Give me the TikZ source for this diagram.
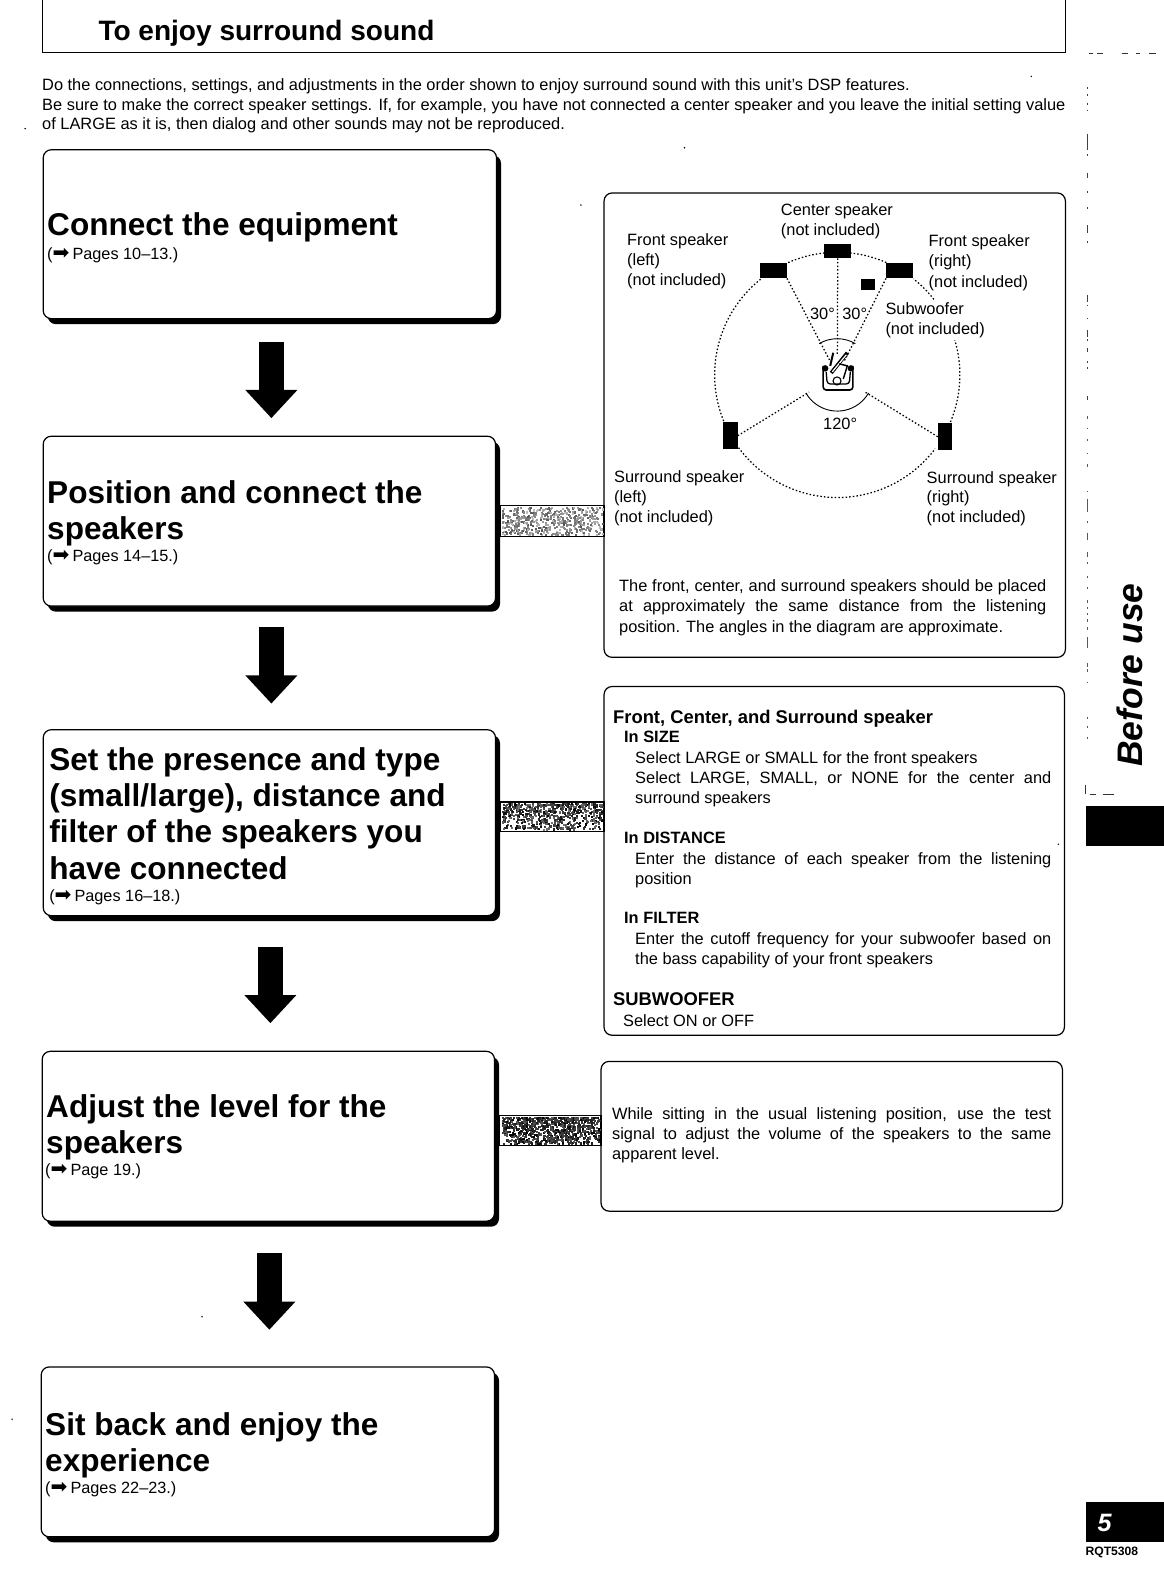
\documentclass[tikz,border=0pt]{standalone}
\usepackage{fontspec}
\setmainfont{Liberation Sans}
\newfontfamily\arrowfont{DejaVu Sans}
\usetikzlibrary{arrows.meta,shadows,calc}
\newcounter{tln}
\newcommand\putline[4][]{\stepcounter{tln}\node[tline,#1] (t\arabic{tln}) at (#2,-#3) {#4};}
\newcommand\putstep[3]{\putline[font=\stepf,yshift=.8pt]{#1}{#2}{#3}}
\newcommand\jl[2]{\makebox[#1pt][s]{#2}}
\newcommand\pg[1]{({\fontsize{20}{18}\arrowfont\char"27A1}\kern3pt #1}
\newcommand\bodyf{\fontsize{16.3}{18}\selectfont}
\newcommand\boldf{\fontsize{18.3}{20}\selectfont\bfseries}
\newcommand\stepf{\fontsize{31.4}{36}\selectfont\bfseries}
\newcommand\pagef{\fontsize{16.2}{18}\selectfont}
% x1 y1 x2 y2 count exponent lowgray highgray
\newcommand\bandnoise[8]{%
  \foreach \ii in {1,...,#5}{%
    \pgfmathsetmacro\rx{#1+rnd*(#3-#1-2)}%
    \pgfmathsetmacro\ry{#2+1+(rnd^#6)*(#4-#2-3.5)}%
    \pgfmathsetmacro\rg{int(#7+rnd*(#8-#7))}%
    \fill[black!\rg] (\rx,-\ry) rectangle ++(2,-2.2);
  }}
\tikzset{
  x=1pt,y=1pt,
  tline/.style={anchor=base west,inner sep=0pt,outer sep=0pt,text=black,font=\bodyf,yshift=-.8pt},
  stepbox/.style={draw=black,line width=1.2pt,fill=white,rounded corners=8pt,inner sep=0pt,outer sep=0pt,anchor=north west,
    general shadow={fill=black,shadow xshift=4.5pt,shadow yshift=-5.5pt}},
  panel/.style={draw=black,line width=1.2pt,fill=white,rounded corners=8pt,inner sep=0pt,outer sep=0pt,anchor=north west},
  flow/.style={line width=25pt,black,-{Triangle[width=50pt,length=28pt]}},
  spk/.style={fill=black,inner sep=0pt,outer sep=0pt},
  dotline/.style={line width=1.25pt,dash pattern=on 1.5pt off 2.1pt,black},
  bandline/.style={draw=black,line width=1.2pt,fill=white},
  speck/.style={line width=1pt,black!80},
}
\begin{document}
\begin{tikzpicture}
\useasboundingbox (0,0) rectangle (1158,-1568);
\fill[white] (0,0) rectangle (1158,-1568);

% header
\coordinate (hl) at (42,0); \coordinate (hbl) at (42,-52);
\coordinate (hr) at (1060,0); \coordinate (hbr) at (1060,-52);
\draw[line width=1.1pt] (hl) -- (hbl) -- (hbr) -- (hr);
\putline[font=\fontsize{27.9}{32}\selectfont\bfseries,yshift=.8pt]{98}{40.5}{To enjoy surround sound}
\putline{42}{89}{Do the connections, settings, and adjustments in the order shown to enjoy surround sound with this unit's DSP features.}
\putline{42}{109}{\jl{1018}{Be sure to make the correct speaker settings. If, for example, you have not connected a center speaker and you leave the initial setting value}}
\putline{42}{128}{of LARGE as it is, then dialog and other sounds may not be reproduced.}

% step boxes
\node[stepbox,minimum width=451pt,minimum height=168pt] (s1) at (43,-149) {};
\node[stepbox,minimum width=450pt,minimum height=169pt] (s2) at (43,-434) {};
\node[stepbox,minimum width=450pt,minimum height=185pt] (s3) at (43,-726) {};
\node[stepbox,minimum width=450pt,minimum height=169pt] (s4) at (42,-1046) {};
\node[stepbox,minimum width=451pt,minimum height=169pt] (s5) at (41,-1360) {};

% panels
\node[panel,minimum width=459pt,minimum height=462pt] (p1) at (601,-192) {};
\node[panel,minimum width=458pt,minimum height=347pt] (p2) at (601,-683) {};
\node[panel,minimum width=459pt,minimum height=149pt] (p3) at (598,-1056) {};

% bands
\pgfmathsetseed{7}
\path[bandline] ($(s2.east |- 0,-503)+(5,0)$) rectangle (p1.west |- 0,-534);
\bandnoise{499}{503}{601}{534}{470}{1}{25}{68}
\path[bandline] ($(s3.east |- 0,-798)+(5,0)$) rectangle (p2.west |- 0,-827);
\bandnoise{499}{798}{601}{827}{640}{1.4}{55}{100}
\path[bandline] ($(s4.east |- 0,-1110)+(5,0)$) rectangle (p3.west |- 0,-1140);
\bandnoise{499}{1110}{598}{1140}{850}{1.4}{65}{100}

% arrows
\coordinate (a1a) at (270,-340); \coordinate (a1b) at (270,-416);
\coordinate (a2a) at (270,-624); \coordinate (a2b) at (270,-700);
\coordinate (a3a) at (269,-942); \coordinate (a3b) at (269,-1018);
\coordinate (a4a) at (268,-1247); \coordinate (a4b) at (268,-1323);
\draw[flow] (a1a) -- (a1b);
\draw[flow] (a2a) -- (a2b);
\draw[flow] (a3a) -- (a3b);
\draw[flow] (a4a) -- (a4b);

% step text
\putstep{47}{234.7}{Connect the equipment}
\putline[font=\pagef]{47}{257}{\pg{Pages 10--13.)}}
\putstep{47}{500.7}{Position and connect the}
\putstep{47}{536.7}{speakers}
\putline[font=\pagef]{47}{558}{\pg{Pages 14--15.)}}
\putstep{49}{766.7}{Set the presence and type}
\putstep{49}{802.7}{(small/large), distance and}
\putstep{49}{838.7}{filter of the speakers you}
\putstep{49}{874.7}{have connected}
\putline[font=\pagef]{49}{896}{\pg{Pages 16--18.)}}
\putstep{46}{1111.7}{Adjust the level for the}
\putstep{46}{1147.7}{speakers}
\putline[font=\pagef]{45}{1169}{\pg{Page 19.)}}
\putstep{45}{1427.7}{Sit back and enjoy the}
\putstep{45}{1463.7}{experience}
\putline[font=\pagef]{45}{1485}{\pg{Pages 22--23.)}}

% speaker diagram
\coordinate (c) at (833,-373);
\node[spk,minimum width=27pt,minimum height=14pt] (cs) at (833.5,-250) {};
\node[spk,minimum width=27pt,minimum height=15pt] (fl) at (769.5,-269.5) {};
\node[spk,minimum width=27pt,minimum height=15pt] (fr) at (895,-269.5) {};
\node[spk,minimum width=14pt,minimum height=11pt] (sw) at (864,-283.5) {};
\node[spk,minimum width=15pt,minimum height=27pt] (sl) at (726.5,-433.5) {};
\node[spk,minimum width=14pt,minimum height=27pt] (sr) at (940,-434.5) {};
\coordinate (lis) at (833,-373);
\foreach \a/\b in {128.7/203,216.4/323,-22.6/16.5,38/51.6,66.4/84,96/114.4}{
  \draw[dotline] (c) ++(\a:122) arc[start angle=\a,end angle=\b,radius=122];
}
\draw[dotline,shorten >=20pt] (cs.south) -- (lis);
\draw[dotline,shorten >=15pt] (fl.south east) -- (lis);
\draw[dotline,shorten >=15pt] (fr.south west) -- (lis);
\draw[dotline,shorten >=33pt] (sl.east) -- (lis);
\draw[dotline,shorten >=33pt] (sr.west) -- (lis);
\draw[line width=.9pt] (c) ++(120:36) arc[start angle=120,end angle=60,radius=36];
\draw[line width=.9pt] (c) ++(210:36) arc[start angle=210,end angle=330,radius=36];
% listener
\draw[line width=1.6pt,rounded corners=3pt,fill=white] (819,-364) -- (819,-388) -- (848.5,-388) -- (848.5,-364);
\draw[line width=1.3pt,rounded corners=3pt] (822,-370) -- (823,-382) -- (845,-382) -- (846,-370);
\fill (821,-366.5) circle[radius=3.2];
\fill (846.5,-366.5) circle[radius=3.2];
\draw[line width=1.1pt] (832.8,-379) circle[radius=4];
\draw[line width=3.6pt] (827,-371) -- (843,-351);
\draw[line width=1.2pt,white] (828,-370) -- (842,-353);
\draw[line width=2pt] (826,-364) -- (829,-351);
\draw[line width=1.4pt] (839,-377) -- (843,-364) -- (835,-362);

\putline{777}{214}{Center speaker}
\putline{777}{234}{(not included)}
\putline{624}{243}{Front speaker}
\putline{624}{263}{(left)}
\putline{624}{283}{(not included)}
\putline{924}{244}{Front speaker}
\putline{924}{264}{(right)}
\putline{924}{285}{(not included)}
\putline{881}{312}{Subwoofer}
\putline{881}{332}{(not included)}
\putline{806}{317}{30°}
\putline{838}{317}{30°}
\putline{819}{427}{120°}
\putline{611}{479}{Surround speaker}
\putline{611}{499}{(left)}
\putline{611}{519}{(not included)}
\putline{922}{480}{Surround speaker}
\putline{922}{499}{(right)}
\putline{922}{519}{(not included)}
\putline{616}{588}{\jl{425}{The front, center, and surround speakers should be placed}}
\putline{616}{608}{\jl{425}{at approximately the same distance from the listening}}
\putline{616}{628}{position. The angles in the diagram are approximate.}

% panel 2
\putline[font=\boldf]{610}{719}{Front, Center, and Surround speaker}
\putline[font=\bodyf\bfseries]{621}{738}{In SIZE}
\putline{632}{759}{Select LARGE or SMALL for the front speakers}
\putline{632}{779}{\jl{414}{Select LARGE, SMALL, or NONE for the center and}}
\putline{632}{799}{surround speakers}
\putline[font=\bodyf\bfseries]{621}{838}{In DISTANCE}
\putline{632}{859}{\jl{414}{Enter the distance of each speaker from the listening}}
\putline{632}{879}{position}
\putline[font=\bodyf\bfseries]{621}{918}{In FILTER}
\putline{632}{939}{\jl{414}{Enter the cutoff frequency for your subwoofer based on}}
\putline{632}{959}{the bass capability of your front speakers}
\putline[font=\boldf]{610}{1000}{SUBWOOFER}
\putline{620}{1020}{Select ON or OFF}

% panel 3
\putline{609}{1113}{\jl{437}{While sitting in the usual listening position, use the test}}
\putline{609}{1133}{\jl{437}{signal to adjust the volume of the speakers to the same}}
\putline{609}{1153}{apparent level.}

% side tabs
\node[spk,minimum width=78pt,minimum height=40pt,anchor=north west] (tab1) at (1080,-802) {};
\node[spk,minimum width=78pt,minimum height=40pt,anchor=north west] (tab2) at (1080,-1494) {};
\putline[font=\fontsize{35.3}{40}\selectfont\bfseries\itshape,rotate=90,yshift=.8pt]{1137}{762}{Before use}
\putline[font=\fontsize{25}{28}\selectfont\bfseries\itshape,text=white]{1092}{1523}{5}
\putline[font=\fontsize{12.1}{14}\selectfont\bfseries]{1080}{1547}{RQT5308}

% scan marks
\draw[speck] (1083,-53.5) -- (1087,-53.5) (1091,-53.5) -- (1097,-53.5) (1116,-53.5) -- (1122,-53.5) (1130,-53.5) -- (1134,-53.5) (1143,-53.5) -- (1150,-53.5);
\draw[speck] (1080,-781) -- (1080,-790) (1084,-790) -- (1090,-790) (1097,-790) -- (1108,-790);
\foreach \ya/\yb in {87/89,94/95.5,102/104,109/110.5,133/149,153.5/155,172/177,190/192,206/208,224/232,240/241.5,293.5/300.5,303/304.5,316/317,328/335,337.5/339,346/350,359/361,365.5/367,394/397.5}{
  \draw[line width=.9pt,black!75] (1082,-\ya) -- (1082,-\yb);
}
\foreach \ya/\yb in {414/417,425.5/426.5,437/439,450.5/451.5,462/465,488.5/489.5,496/509,518.5/520,530/537,549/554,559.5/561,573/575,584/586,597/600,604/606,610/612,616/619,624/627,634/645,660/664,666/669,678.5/680,713/715,722/724,733/735}{
  \draw[line width=.9pt,black!65] (1081.5,-\ya) -- (1081.5,-\yb);
}
% stray specks of the scan
\fill (25,-128) circle[radius=.8];
\fill (681,-147) circle[radius=.8];
\fill (578,-204) circle[radius=.8];
\fill (1026,-76) circle[radius=.8];
\fill (1053,-840) circle[radius=.8];
\fill (201,-1310) circle[radius=.8];
\fill (12,-1412) circle[radius=.8];
\end{tikzpicture}
\end{document}
